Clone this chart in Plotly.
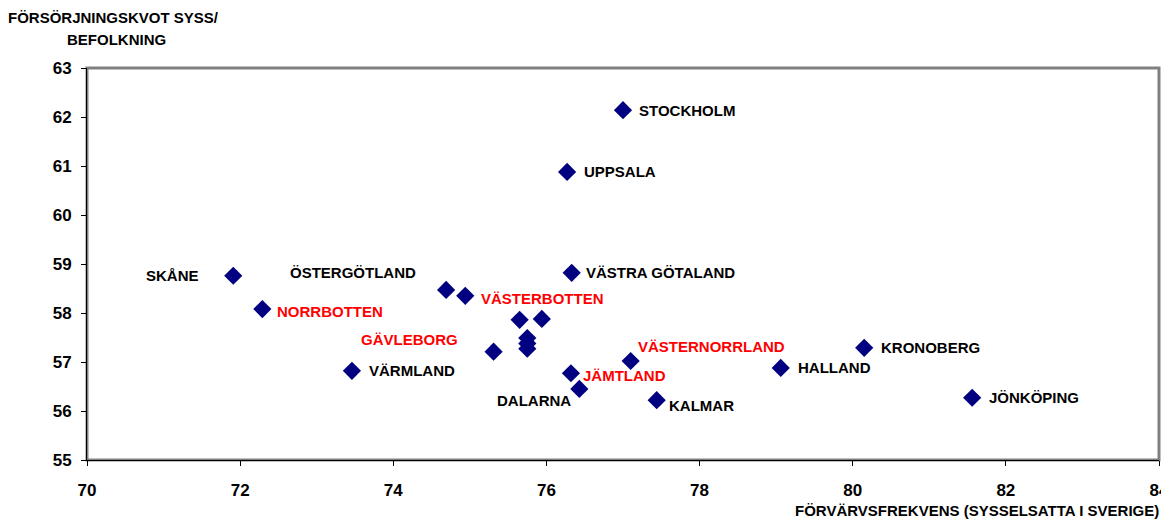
import plotly.graph_objects as go

# Län: förvärvsfrekvens (x) och försörjningskvot (y); "" = län utan etikett
lan = ["STOCKHOLM", "UPPSALA", "VÄSTRA GÖTALAND", "SKÅNE", "ÖSTERGÖTLAND",
       "NORRBOTTEN", "VÄSTERBOTTEN", "GÄVLEBORG", "VÄRMLAND", "VÄSTERNORRLAND",
       "JÄMTLAND", "DALARNA", "KALMAR", "HALLAND", "KRONOBERG", "JÖNKÖPING",
       "", "", "", "", ""]
forvarvsfrekvens = [77.00, 76.27, 76.33, 71.91, 74.69,
                    72.29, 74.94, 75.31, 73.46, 77.10,
                    76.32, 76.43, 77.44, 79.06, 80.15, 81.56,
                    75.65, 75.94, 75.75, 75.75, 75.75]
forsorjningskvot = [62.14, 60.88, 58.82, 58.76, 58.47,
                    58.08, 58.35, 57.21, 56.82, 57.02,
                    56.77, 56.45, 56.22, 56.88, 57.29, 56.27,
                    57.86, 57.88, 57.49, 57.38, 57.27]
rod_etikett = {"NORRBOTTEN", "VÄSTERBOTTEN", "GÄVLEBORG", "VÄSTERNORRLAND", "JÄMTLAND"}

x_ticks = [70, 72, 74, 76, 78, 80, 82, 84]
y_ticks = [55, 56, 57, 58, 59, 60, 61, 62, 63]

# label placement relative to marker: (xanchor, xshift, yshift) in px
placering = {
    "STOCKHOLM": ("left", 14, 0),
    "UPPSALA": ("left", 15, 0),
    "VÄSTRA GÖTALAND": ("left", 12, 0),
    "SKÅNE": ("right", -32, 0),
    "ÖSTERGÖTLAND": ("right", -28, 17),
    "NORRBOTTEN": ("left", 13, -2),
    "VÄSTERBOTTEN": ("left", 14, -3),
    "GÄVLEBORG": ("right", -34, 12),
    "VÄRMLAND": ("left", 15, 0),
    "VÄSTERNORRLAND": ("left", 5, 15),
    "JÄMTLAND": ("left", 10, -2),
    "DALARNA": ("right", -6, -12),
    "KALMAR": ("left", 10, -5),
    "HALLAND": ("left", 15, 0),
    "KRONOBERG": ("left", 15, 0),
    "JÖNKÖPING": ("left", 15, 0),
}

FONT = "Liberation Sans, Arial, sans-serif"

fig = go.Figure()
fig.add_trace(go.Scatter(
    x=forvarvsfrekvens, y=forsorjningskvot, mode="markers",
    marker={"symbol": "diamond", "size": 14, "color": "#000080", "line": {"width": 0}},
    showlegend=False, hoverinfo="skip",
))

for namn, xv, yv in zip(lan, forvarvsfrekvens, forsorjningskvot):
    if not namn:
        continue
    anchor, dx, dy = placering[namn]
    fig.add_annotation(
        x=xv, y=yv, text=f"<b>{namn}</b>", showarrow=False,
        xanchor=anchor, yanchor="middle", xshift=dx, yshift=dy,
        font={"family": FONT, "size": 15,
              "color": "#ff0000" if namn in rod_etikett else "#000000"},
    )

# axis titles
fig.add_annotation(xref="paper", yref="paper", x=0, y=1, xanchor="center", yanchor="middle",
                   xshift=26, yshift=51, text="<b>FÖRSÖRJNINGSKVOT SYSS/</b>", showarrow=False,
                   font={"family": FONT, "size": 15, "color": "#000000"})
fig.add_annotation(xref="paper", yref="paper", x=0, y=1, xanchor="center", yanchor="middle",
                   xshift=29, yshift=29, text="<b>BEFOLKNING</b>", showarrow=False,
                   font={"family": FONT, "size": 15, "color": "#000000"})
fig.add_annotation(xref="paper", yref="paper", x=1, y=0, xanchor="right", yanchor="middle",
                   xshift=2, yshift=-50, text="<b>FÖRVÄRVSFREKVENS (SYSSELSATTA I SVERIGE)</b>",
                   showarrow=False, font={"family": FONT, "size": 15, "color": "#000000"})

# plot area border (Excel style grey frame)
fig.add_shape(type="rect", xref="paper", yref="paper", x0=0, y0=0, x1=1, y1=1,
              line={"color": "#808080", "width": 3}, layer="below")

axis_common = dict(
    showgrid=False, zeroline=False, showline=True, linecolor="#000000", linewidth=1,
    ticks="outside", ticklen=5, tickcolor="#000000", tickwidth=1, automargin=False,
    tickfont={"family": FONT, "size": 17, "color": "#000000"},
)
fig.update_xaxes(range=[70, 84], tickvals=x_ticks, ticktext=[f"<b>{v}</b>" for v in x_ticks],
                 ticklabelstandoff=10, **axis_common)
fig.update_yaxes(range=[55, 63], tickvals=y_ticks, ticktext=[f"<b>{v}</b>" for v in y_ticks],
                 ticklabelstandoff=6, **axis_common)

# page body adds an 8px offset, so the figure is sized to fit the window
fig.update_layout(
    width=1161, height=512,
    margin={"l": 79, "r": 10, "t": 60, "b": 60},
    paper_bgcolor="#ffffff", plot_bgcolor="#ffffff",
    font={"family": FONT},
)

fig.write_html("out.html")
